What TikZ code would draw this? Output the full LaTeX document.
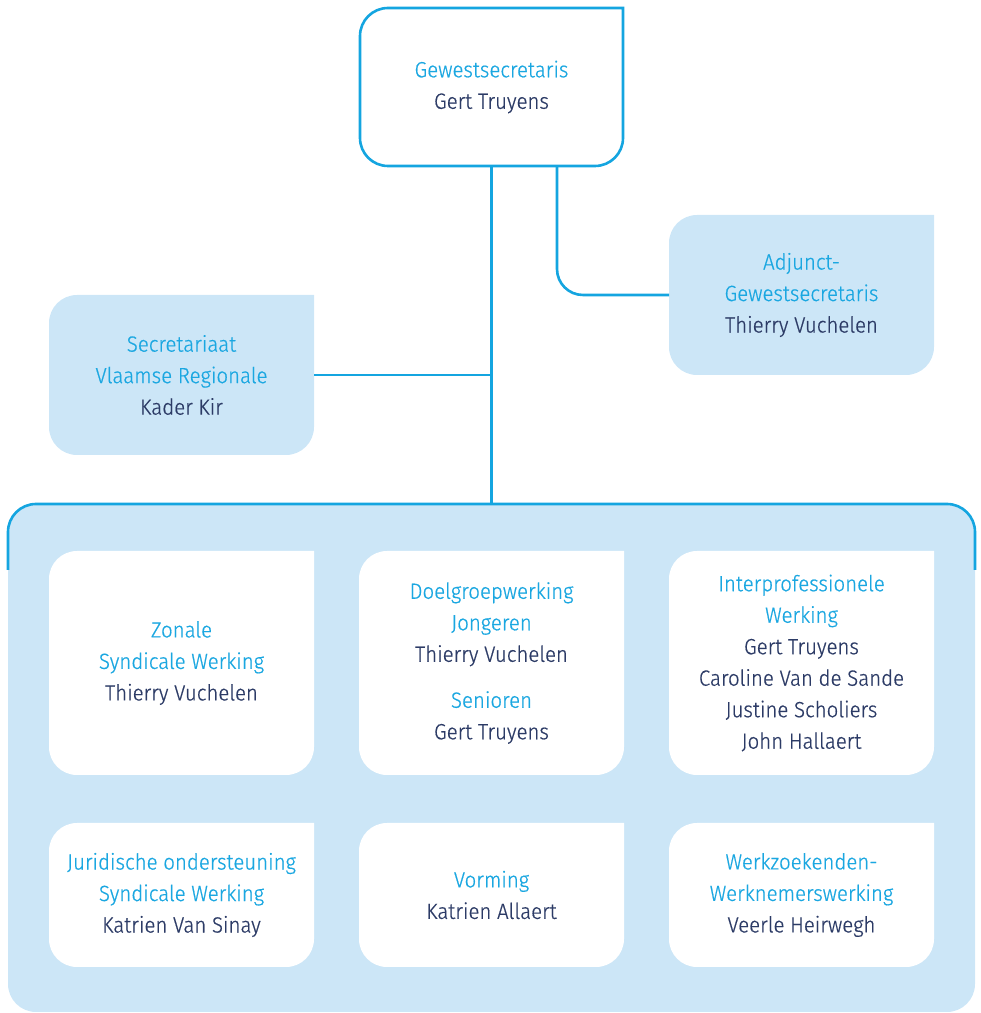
\documentclass[tikz,border=0pt]{standalone}
\usepackage{fontspec}
\setmainfont{Fira Sans Light}[FakeStretch=0.93,FakeBold=0.6]
\usetikzlibrary{backgrounds,calc,positioning}
\definecolor{acvblue}{HTML}{14A5E0}
\definecolor{acvpale}{HTML}{CCE6F7}
\definecolor{acvtitle}{HTML}{1AA7E1}
\definecolor{acvnavy}{HTML}{2C3B66}
\newcommand\tabr{28pt}
\newcommand\rol[1]{\textcolor{acvtitle}{#1}}
\newcommand\tabbox[2][]{%
  \path[#1] (#2.north east) -- ([yshift=\tabr]#2.south east)
    arc[start angle=0,end angle=-90,radius=\tabr]
    -- ([xshift=\tabr]#2.south west)
    arc[start angle=-90,end angle=-180,radius=\tabr]
    -- ([yshift=-\tabr]#2.north west)
    arc[start angle=180,end angle=90,radius=\tabr]
    -- cycle;}
\tikzset{
  x=1pt, y=1pt,
  txt/.style={rectangle, inner sep=0pt, outer sep=0pt, align=center, text=acvnavy, font=\fontsize{22pt}{31.5pt}\selectfont, minimum width=265pt},
  kader/.style={txt, minimum height=160pt},
  hoog/.style={txt, minimum height=224pt},
  laag/.style={txt, minimum height=144pt},
  link/.style={acvblue, line width=2.6pt}
}

\begin{document}
\begin{tikzpicture}
  \useasboundingbox (0,0) rectangle (981,1013);

  \node[kader, minimum width=263pt, minimum height=158pt] (gs) at (491.5,926) {\rol{Gewestsecretaris}\\Gert Truyens};
  \node[kader] (adj) at (801.5,718) {\rol{Adjunct-}\\\rol{Gewestsecretaris}\\Thierry Vuchelen};
  \node[kader] (sec) at (181.5,638) {\rol{Secretariaat}\\\rol{Vlaamse Regionale}\\Kader Kir};
  \node[txt, minimum width=967pt, minimum height=508pt] (werk) at (491.5,255) {};

  \node[hoog] (zon) at (181.5,350) {\rol{Zonale}\\\rol{Syndicale Werking}\\Thierry Vuchelen};
  \node[hoog] (doel) at (491.5,350) {\rol{Doelgroepwerking}\\\rol{Jongeren}\\Thierry Vuchelen\\[14.5pt]\rol{Senioren}\\Gert Truyens};
  \node[hoog] (ipw) at (801.5,350) {\rol{Interprofessionele}\\\rol{Werking}\\Gert Truyens\\Caroline Van de Sande\\Justine Scholiers\\John Hallaert};
  \node[laag] (jur) at (181.5,118) {\rol{Juridische ondersteuning}\\\rol{Syndicale Werking}\\Katrien Van Sinay};
  \node[laag] (vor) at (491.5,118) {\rol{Vorming}\\Katrien Allaert};
  \node[laag] (wzw) at (801.5,118) {\rol{Werkzoekenden-}\\\rol{Werknemerswerking}\\Veerle Heirwegh};

  \draw[link] (gs.south) -- (gs.south |- werk.north);
  \draw[link] (sec.east) -- (sec.east -| gs.south);
  \draw[link, rounded corners=26pt] ([xshift=65.5pt]gs.south) |- (adj.west);
  \draw[link, rounded corners=\tabr] ([yshift=-66pt]werk.north west) |- (werk.north) -| ([yshift=-66pt]werk.north east);

  \begin{scope}[on background layer]
    \tabbox[fill=white, draw=acvblue, line width=2.6pt]{gs}
    \tabbox[fill=acvpale]{adj}
    \tabbox[fill=acvpale]{sec}
    \fill[acvpale, rounded corners=\tabr] (werk.south west) rectangle (werk.north east);
    \foreach \n in {zon,doel,ipw,jur,vor,wzw}
      \tabbox[fill=white]{\n};
  \end{scope}
\end{tikzpicture}
\end{document}
